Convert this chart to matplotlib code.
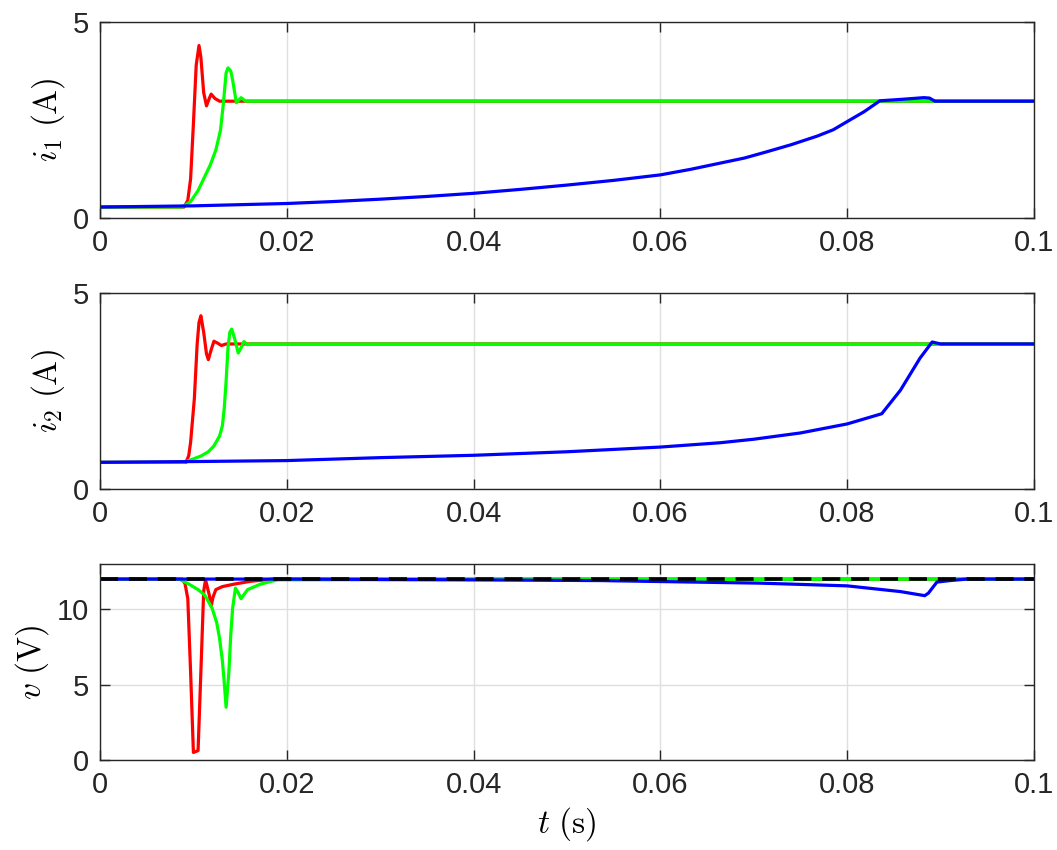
import numpy as np
import matplotlib
matplotlib.use("Agg")
import matplotlib.pyplot as plt

plt.rcParams['mathtext.fontset'] = 'cm'
plt.rcParams['font.family'] = ['Liberation Sans', 'DejaVu Sans']

# --- i1 (A) ---
t_i1_red = [0, 0.0090, 0.0094, 0.0097, 0.0100, 0.0103, 0.0106, 0.0108, 0.0111, 0.0114, 0.0117,
            0.0119, 0.0123, 0.0128, 0.0135, 0.1]
i1_red = [0.28, 0.28, 0.45, 1.0, 2.4, 3.9, 4.40, 4.1, 3.2, 2.86, 3.05, 3.16, 3.05, 2.98, 2.98, 2.98]
t_i1_green = [0, 0.0088, 0.0097, 0.0105, 0.0112, 0.0118, 0.0124, 0.0129, 0.0132, 0.0135, 0.0137,
              0.0140, 0.0142, 0.0146, 0.0151, 0.0156, 0.1]
i1_green = [0.28, 0.28, 0.42, 0.70, 1.05, 1.35, 1.73, 2.24, 2.9, 3.70, 3.83, 3.75, 3.52, 2.94,
            3.07, 2.98, 2.98]
t_i1_blue = [0, 0.01, 0.02, 0.025, 0.03, 0.035, 0.04, 0.045, 0.05, 0.055, 0.06, 0.0632, 0.0664,
             0.0690, 0.0714, 0.0740, 0.0768, 0.0785, 0.08, 0.0818, 0.0835, 0.0860, 0.0882,
             0.0888, 0.0894, 0.1]
i1_blue = [0.28, 0.31, 0.37, 0.42, 0.48, 0.55, 0.63, 0.73, 0.84, 0.96, 1.10, 1.24, 1.40,
           1.53, 1.69, 1.87, 2.09, 2.25, 2.46, 2.71, 2.99, 3.03, 3.07, 3.06, 2.98, 2.98]

# --- i2 (A) ---
t_i2_red = [0, 0.0092, 0.0095, 0.0097, 0.0101, 0.0104, 0.0106, 0.0108, 0.0111, 0.0114, 0.0116,
            0.0119, 0.0122, 0.0126, 0.0130, 0.0135, 0.1]
i2_red = [0.68, 0.68, 0.85, 1.19, 2.30, 3.69, 4.25, 4.42, 4.0, 3.45, 3.30, 3.55, 3.77, 3.72,
          3.66, 3.70, 3.70]
t_i2_green = [0, 0.0090, 0.0099, 0.0108, 0.0116, 0.0122, 0.0128, 0.0131, 0.0133, 0.0135, 0.0137,
              0.0139, 0.0141, 0.0144, 0.0148, 0.0151, 0.0154, 0.0158, 0.0161, 0.1]
i2_green = [0.68, 0.68, 0.76, 0.84, 0.95, 1.10, 1.35, 1.61, 2.05, 2.74, 3.60, 4.0, 4.08, 3.85,
            3.47, 3.60, 3.76, 3.68, 3.70, 3.70]
t_i2_blue = [0, 0.01, 0.02, 0.03, 0.04, 0.05, 0.06, 0.0664, 0.07, 0.075, 0.08, 0.0837, 0.0857,
             0.0878, 0.0891, 0.0900, 0.1]
i2_blue = [0.68, 0.70, 0.725, 0.80, 0.86, 0.95, 1.07, 1.18, 1.27, 1.43, 1.66, 1.92, 2.52, 3.34,
           3.75, 3.70, 3.70]

# --- v (V) ---
t_v_red = [0, 0.0088, 0.0091, 0.0094, 0.0097, 0.0100, 0.0105, 0.0108, 0.0111, 0.0113, 0.0117,
           0.0119, 0.0121, 0.0124, 0.0131, 0.0144, 0.0161, 0.0185, 0.1]
v_red = [12.0, 12.0, 11.7, 10.7, 5.84, 0.50, 0.62, 5.84, 11.2, 11.95, 10.95, 10.2, 10.8, 11.3,
         11.5, 11.67, 11.85, 12.0, 12.0]
t_v_green = [0, 0.0085, 0.0097, 0.0105, 0.0112, 0.0120, 0.0125, 0.0128, 0.0131, 0.0133, 0.0135,
             0.0138, 0.0140, 0.0142, 0.0145, 0.0148, 0.0151, 0.0158, 0.0172, 0.0190, 0.1]
v_green = [12.0, 12.0, 11.6, 11.3, 10.95, 10.07, 9.1, 8.07, 6.6, 5.17, 3.5, 5.84, 8.3, 10.07,
           11.4, 11.1, 10.7, 11.3, 11.67, 11.95, 12.0]
t_v_blue = [0, 0.02, 0.04, 0.0536, 0.0707, 0.08, 0.0857, 0.0883, 0.0887, 0.0896, 0.0910,
            0.0928, 0.1]
v_blue = [12.0, 12.0, 11.95, 11.9, 11.73, 11.55, 11.17, 10.9, 11.07, 11.8, 11.9, 12.0, 12.0]
t_v_ref = [0, 0.1]
v_ref = [12.0, 12.0]

red = '#ff0000'
green = '#00ff00'
blue = '#0000ff'
axcol = '#262626'
lw = 2.3

fig = plt.figure(figsize=(10.57, 8.5), dpi=100)
W, H = 1057, 850
boxes = [(22, 218), (293, 489), (564, 760)]
left, right = 100, 1034
axes = []
for top, bot in boxes:
    ax = fig.add_axes([left / W, 1 - bot / H, (right - left) / W, (bot - top) / H])
    axes.append(ax)

ax1, ax2, ax3 = axes
ax1.plot(t_i1_red, i1_red, color=red, lw=lw)
ax1.plot(t_i1_green, i1_green, color=green, lw=lw)
ax1.plot(t_i1_blue, i1_blue, color=blue, lw=lw)
ax1.set_ylim(0, 5)
ax1.set_yticks([0, 5])
ax1.set_ylabel(r'$i_1\ \mathrm{(A)}$', fontsize=24)

ax2.plot(t_i2_red, i2_red, color=red, lw=lw)
ax2.plot(t_i2_green, i2_green, color=green, lw=lw)
ax2.plot(t_i2_blue, i2_blue, color=blue, lw=lw)
ax2.set_ylim(0, 5)
ax2.set_yticks([0, 5])
ax2.set_ylabel(r'$i_2\ \mathrm{(A)}$', fontsize=24)

ax3.plot(t_v_red, v_red, color=red, lw=lw)
ax3.plot(t_v_green, v_green, color=green, lw=lw)
ax3.plot(t_v_blue, v_blue, color=blue, lw=lw)
ax3.plot(t_v_ref, v_ref, color='black', lw=2.6, ls=(0, (5, 3)))
ax3.set_ylim(0, 13)
ax3.set_yticks([0, 5, 10])
ax3.set_ylabel(r'$v\ \mathrm{(V)}$', fontsize=24)
ax3.set_xlabel(r'$t\ \mathrm{(s)}$', fontsize=24, labelpad=4)

for ax in axes:
    ax.set_xlim(0, 0.1)
    ax.set_xticks([0, 0.02, 0.04, 0.06, 0.08, 0.1])
    ax.set_xticklabels(['0', '0.02', '0.04', '0.06', '0.08', '0.1'])
    ax.grid(True, color='#dfdfdf', lw=1)
    ax.set_axisbelow(True)
    ax.tick_params(direction='in', top=True, right=True, labelsize=21, colors=axcol,
                   length=7, width=1, pad=8)
    for s in ax.spines.values():
        s.set_color(axcol)
        s.set_linewidth(1)

fig.savefig('out.png', dpi=100)
